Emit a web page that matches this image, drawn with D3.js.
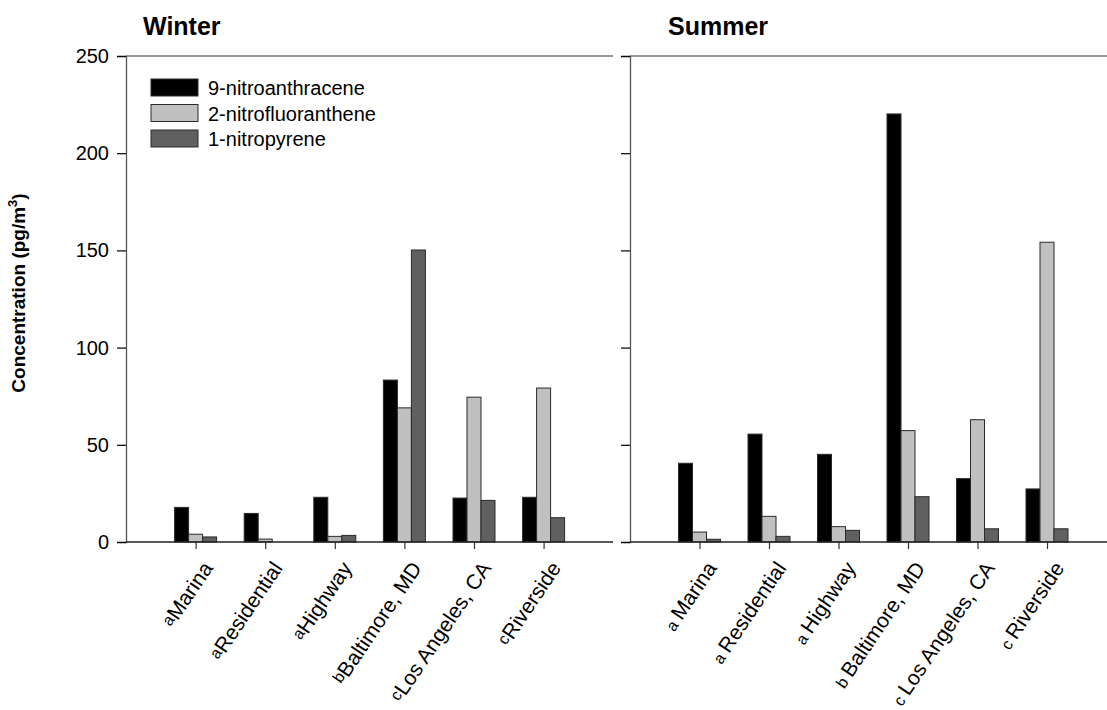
<!DOCTYPE html>
<html><head><meta charset="utf-8">
<script src="https://cdn.jsdelivr.net/npm/d3@7"></script>
<style>
body{margin:0;background:#fff;}
text{font-family:Arial,"Liberation Sans",sans-serif;}
</style></head>
<body><svg id="c" width="1107" height="710"></svg>
<script>
const categories = ["Marina","Residential","Highway","Baltimore, MD","Los Angeles, CA","Riverside"];
const superscripts = ["a","a","a","b","c","c"];
const seriesNames = ["9-nitroanthracene","2-nitrofluoranthene","1-nitropyrene"];
const seriesColors = ["#000000","#c0c0c0","#606060"];
const winterNitroanthracene = [17.8, 14.7, 23, 83.3, 22.6, 23];
const winterNitrofluoranthene = [4.0, 1.5, 2.9, 69, 74.5, 79.2];
const winterNitropyrene = [2.6, 0, 3.4, 150.2, 21.4, 12.5];
const summerNitroanthracene = [40.5, 55.5, 45.1, 220.2, 32.6, 27.3];
const summerNitrofluoranthene = [5.1, 13.2, 7.9, 57.3, 62.9, 154.2];
const summerNitropyrene = [1.4, 2.9, 6.0, 23.3, 6.8, 6.8];
const yTicks = [0,50,100,150,200,250];
const panelTitles = ["Winter","Summer"];

const svg = d3.select("#c");
const y = d3.scaleLinear().domain([0,250]).range([542,56]);

const panels = [
  {title:panelTitles[0], x0:126, step:69.6, xEnd:613, labels:true, titleX:143, sep:"",
   data:[winterNitroanthracene,winterNitrofluoranthene,winterNitropyrene]},
  {title:panelTitles[1], x0:630, step:69.5, xEnd:1107, labels:false, titleX:668, sep:" ",
   data:[summerNitroanthracene,summerNitrofluoranthene,summerNitropyrene]}
];

panels.forEach((p,pi)=>{
  const g = svg.append("g");
  const x = d3.scalePoint().domain(categories).range([p.x0+p.step, p.x0+6*p.step]);
  const xs = d3.scaleBand().domain(seriesNames).range([-21,21]).padding(0);
  seriesNames.forEach((s,si)=>{
    g.selectAll(null).data(p.data[si]).enter().append("rect")
      .attr("x",(d,i)=>x(categories[i])+xs(s))
      .attr("width",xs.bandwidth())
      .attr("y",d=>y(d))
      .attr("height",d=>y(0)-y(d))
      .attr("fill",seriesColors[si])
      .attr("stroke","#2a2a2a").attr("stroke-width",1)
      .attr("display",d=>d>0?null:"none");
  });
  const ya = d3.axisLeft(y).tickValues(yTicks).tickSize(9).tickPadding(8)
     .tickFormat(p.labels?d3.format("d"):"");
  const yg = g.append("g").attr("transform",`translate(${p.x0},0)`).call(ya);
  yg.select(".domain").attr("stroke","#555").attr("stroke-width",1.3);
  yg.selectAll(".tick line").attr("stroke","#000").attr("stroke-width",1.2);
  yg.selectAll(".tick text").attr("font-size",20).attr("fill","#000");
  g.append("line").attr("x1",p.x0).attr("x2",p.xEnd).attr("y1",y(250)).attr("y2",y(250))
    .attr("stroke","#333").attr("stroke-width",1.2);
  const xa = d3.axisBottom(x).tickSize(7).tickFormat("");
  const xg = g.append("g").attr("transform",`translate(0,${y(0)})`).call(xa);
  xg.select(".domain").remove();
  xg.selectAll(".tick line").attr("stroke","#333").attr("stroke-width",1.2);
  g.append("line").attr("x1",p.x0).attr("x2",p.xEnd).attr("y1",y(0)).attr("y2",y(0))
    .attr("stroke","#222").attr("stroke-width",1.3);
  categories.forEach((c,i)=>{
    const t = g.append("text")
      .attr("transform",`translate(${x(c)+12},${564}) rotate(-56)`)
      .attr("text-anchor","end").attr("dy","0.35em").attr("font-size",21).attr("fill","#000");
    t.append("tspan").attr("font-size",16).attr("baseline-shift", pi===0?"3":"0").text(superscripts[i]+p.sep);
    t.append("tspan").attr("baseline-shift","0").text(c);
  });
  svg.append("text").attr("x",p.titleX).attr("y",35).attr("font-size",25).attr("font-weight","bold")
    .text(p.title);
});

const yt = svg.append("text").attr("transform","translate(25,293) rotate(-90)")
  .attr("text-anchor","middle").attr("font-size",19).attr("font-weight","bold");
yt.append("tspan").text("Concentration (pg/m");
yt.append("tspan").attr("font-size",13).attr("dy",-8).text("3");
yt.append("tspan").attr("dy",8).text(")");

const lg = svg.append("g");
seriesNames.forEach((s,i)=>{
  lg.append("rect").attr("x",151).attr("y",79+i*25.5).attr("width",47).attr("height",17)
    .attr("fill",seriesColors[i]).attr("stroke","#2a2a2a").attr("stroke-width",1);
  lg.append("text").attr("x",208).attr("y",95+i*25.5).attr("font-size",20).text(s);
});
</script></body></html>
